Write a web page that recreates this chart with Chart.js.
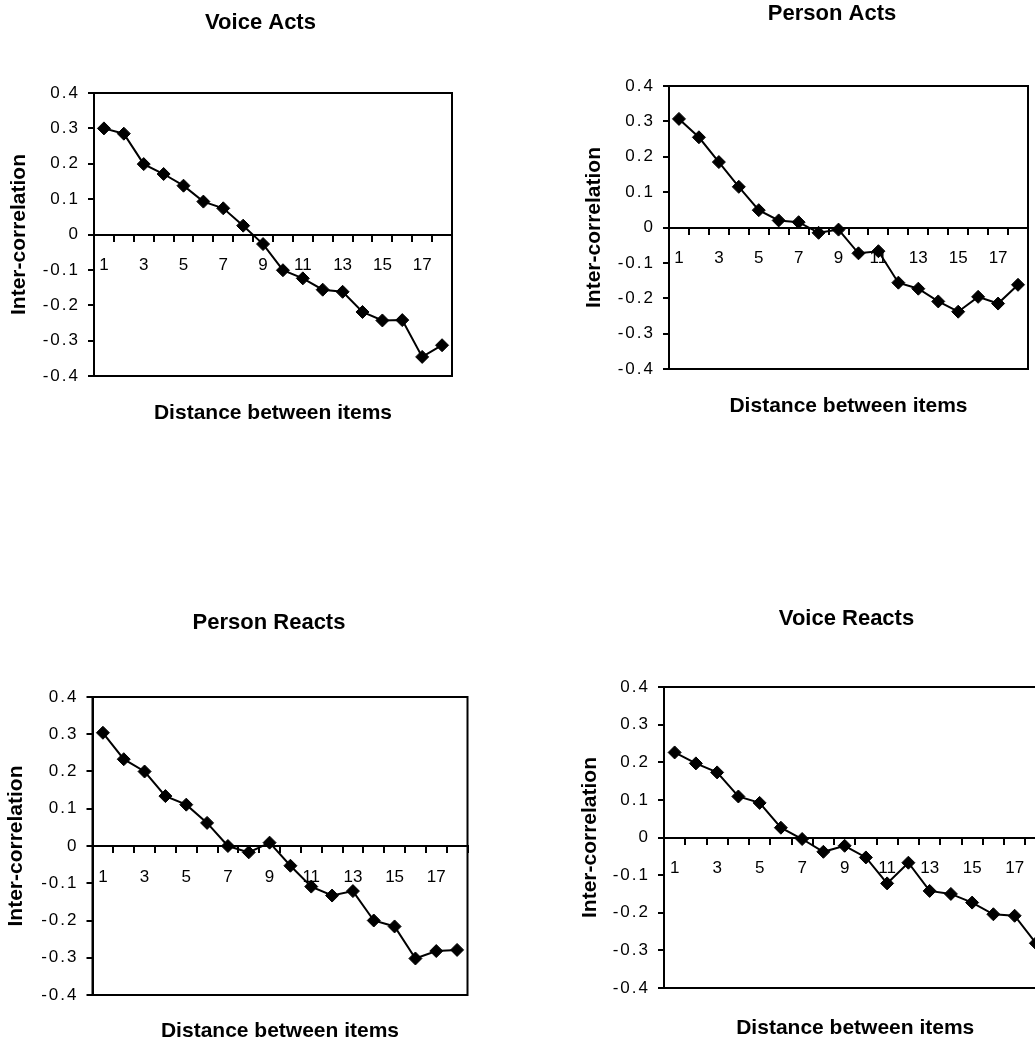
<!DOCTYPE html>
<html>
<head>
<meta charset="utf-8">
<title>Inter-correlation by distance</title>
<script src="https://cdn.jsdelivr.net/npm/chart.js@4.4.1/dist/chart.umd.min.js"></script>
<style>
  html, body { margin: 0; padding: 0; background: #fff; overflow: hidden; }
  body { width: 1035px; height: 1046px; position: relative; }
  .panel { position: absolute; }
  .panel canvas { display: block; }
</style>
</head>
<body>
<div class="panel" id="p1"><canvas id="c1"></canvas></div>
<div class="panel" id="p2"><canvas id="c2"></canvas></div>
<div class="panel" id="p3"><canvas id="c3"></canvas></div>
<div class="panel" id="p4"><canvas id="c4"></canvas></div>
<script>
// distance between items (x categories)
const distances = [1, 2, 3, 4, 5, 6, 7, 8, 9, 10, 11, 12, 13, 14, 15, 16, 17, 18];
// only odd distances get a label
const xTickLabels = ['1', '', '3', '', '5', '', '7', '', '9', '', '11', '', '13', '', '15', '', '17', ''];

// inter-correlation values
const voiceActs = [0.300, 0.285, 0.199, 0.171, 0.138, 0.093, 0.074, 0.025, -0.027, -0.101, -0.124, -0.156, -0.162, -0.219, -0.243, -0.242, -0.346, -0.313];
const personActs = [0.307, 0.255, 0.185, 0.115, 0.049, 0.020, 0.015, -0.015, -0.006, -0.073, -0.067, -0.156, -0.173, -0.209, -0.238, -0.196, -0.215, -0.162];
const personReacts = [0.304, 0.233, 0.200, 0.134, 0.111, 0.062, 0.000, -0.017, 0.009, -0.053, -0.109, -0.133, -0.121, -0.200, -0.216, -0.302, -0.282, -0.279];
const voiceReacts = [0.226, 0.197, 0.173, 0.109, 0.092, 0.026, -0.004, -0.038, -0.022, -0.053, -0.122, -0.067, -0.142, -0.150, -0.173, -0.204, -0.208, -0.281];

const yMin = -0.4;
const yMax = 0.4;
const yStep = 0.1;

const xTitle = 'Distance between items';
const yTitle = 'Inter-correlation';

const FONT = '"Liberation Sans", Arial, Helvetica, sans-serif';
const TITLE_SIZE = 22;
const AXIS_TITLE_SIZE = 21;
const TICK_SIZE = 17;

// where each panel sits on the page (canvas box + wanted plot area)
const panels = [
  { id: 'c1', wrap: 'p1', title: 'Voice Acts', values: voiceActs,
    box: { left: 6, top: 0, width: 509, height: 440 },
    area: { l: 94, r: 452, t: 93, b: 376 }, titleY: 23, yTitleX: 19, xTitleY: 413 },
  { id: 'c2', wrap: 'p2', title: 'Person Acts', values: personActs,
    box: { left: 582, top: 0, width: 500, height: 440 },
    area: { l: 669, r: 1028, t: 86, b: 369 }, titleY: 14, yTitleX: 594.5, xTitleY: 406 },
  { id: 'c3', wrap: 'p3', title: 'Person Reacts', values: personReacts,
    box: { left: 3, top: 560, width: 532, height: 486 },
    area: { l: 92.5, r: 467.5, t: 697, b: 995 }, titleY: 623, yTitleX: 16, xTitleY: 1031 },
  { id: 'c4', wrap: 'p4', title: 'Voice Reacts', values: voiceReacts,
    box: { left: 578, top: 560, width: 537, height: 486 },
    area: { l: 664, r: 1046.5, t: 687, b: 988 }, titleY: 619, yTitleX: 590.5, xTitleY: 1028 }
];

// black box round the plot area
const frame = {
  id: 'frame',
  beforeDatasetsDraw(chart) {
    const { ctx, chartArea: { left, top, right, bottom } } = chart;
    ctx.save();
    ctx.strokeStyle = '#000';
    ctx.lineWidth = 2;
    ctx.strokeRect(left, top, right - left, bottom - top);
    ctx.restore();
  }
};

// the scanned y tick labels are spread out a bit
function spreadLabels(scale) {
  if (scale._spread) return;
  const draw = scale.drawLabels.bind(scale);
  scale.drawLabels = area => {
    scale.ctx.save();
    scale.ctx.letterSpacing = '2px';
    draw(area);
    scale.ctx.restore();
  };
  scale._spread = true;
}

function buildChart(p) {
  const b = p.box, a = p.area;
  const wrap = document.getElementById(p.wrap);
  wrap.style.left = b.left + 'px';
  wrap.style.top = b.top + 'px';
  const canvas = document.getElementById(p.id);
  canvas.width = b.width;
  canvas.height = b.height;

  const titleLH = TITLE_SIZE * 1.2;
  const titlePadTop = Math.max(0, p.titleY - b.top - titleLH / 2);
  const titlePadBottom = (a.t - b.top) - titlePadTop - titleLH;
  const axisLH = AXIS_TITLE_SIZE * 1.2;
  const yTitlePad = Math.max(0, p.yTitleX - b.left - axisLH / 2);
  const xTitlePad = Math.max(0, b.top + b.height - p.xTitleY - axisLH / 2);

  return new Chart(canvas.getContext('2d'), {
    type: 'line',
    data: {
      labels: distances,
      datasets: [{
        data: p.values,
        borderColor: '#000',
        backgroundColor: '#000',
        borderWidth: 2,
        pointStyle: 'rectRot',
        pointRadius: 6.5,
        pointBorderWidth: 1,
        pointBackgroundColor: '#000',
        pointBorderColor: '#000',
        tension: 0,
        fill: false
      }]
    },
    options: {
      responsive: false,
      animation: false,
      layout: { padding: 0 },
      plugins: {
        legend: { display: false },
        tooltip: { enabled: false },
        title: {
          display: true,
          text: p.title,
          color: '#000',
          font: { family: FONT, size: TITLE_SIZE, weight: 'bold', lineHeight: 1.2 },
          padding: { top: titlePadTop, bottom: titlePadBottom }
        }
      },
      scales: {
        // category axis crossing at zero
        x: {
          axis: 'x',
          type: 'category',
          position: { y: 0 },
          offset: true,
          grid: { offset: true, drawOnChartArea: false, color: '#000', lineWidth: 2, tickLength: 6 },
          border: { color: '#000', width: 2 },
          ticks: {
            autoSkip: false,
            maxRotation: 0,
            padding: 15,
            color: '#000',
            font: { family: FONT, size: TICK_SIZE },
            callback: (v, i) => xTickLabels[i]
          }
        },
        // only carries the axis title under the plot
        xt: {
          axis: 'x',
          type: 'category',
          position: 'bottom',
          offset: true,
          grid: { display: false },
          border: { display: false },
          ticks: { display: false },
          title: {
            display: true,
            text: xTitle,
            color: '#000',
            font: { family: FONT, size: AXIS_TITLE_SIZE, weight: 'bold', lineHeight: 1.2 },
            padding: { top: 0, bottom: xTitlePad }
          },
          afterFit: s => { s.height = b.top + b.height - a.b; }
        },
        y: {
          min: yMin,
          max: yMax,
          grid: { drawOnChartArea: false, color: '#000', lineWidth: 2, tickLength: 6 },
          border: { color: '#000', width: 2 },
          ticks: {
            stepSize: yStep,
            padding: 8,
            color: '#000',
            font: { family: FONT, size: TICK_SIZE },
            callback: v => String(Number(v.toFixed(1)))
          },
          title: {
            display: true,
            text: yTitle,
            color: '#000',
            font: { family: FONT, size: AXIS_TITLE_SIZE, weight: 'bold', lineHeight: 1.2 },
            padding: { top: yTitlePad, bottom: 0 }
          },
          afterFit: s => { s.width = a.l - b.left; },
          afterUpdate: spreadLabels
        },
        // empty spacer on the right so the title centres on the whole panel
        yr: {
          axis: 'y',
          position: 'right',
          grid: { display: false },
          border: { display: false },
          ticks: { display: false },
          afterFit: s => { s.width = b.left + b.width - a.r; }
        }
      }
    },
    plugins: [frame]
  });
}

panels.forEach(buildChart);
</script>
</body>
</html>
